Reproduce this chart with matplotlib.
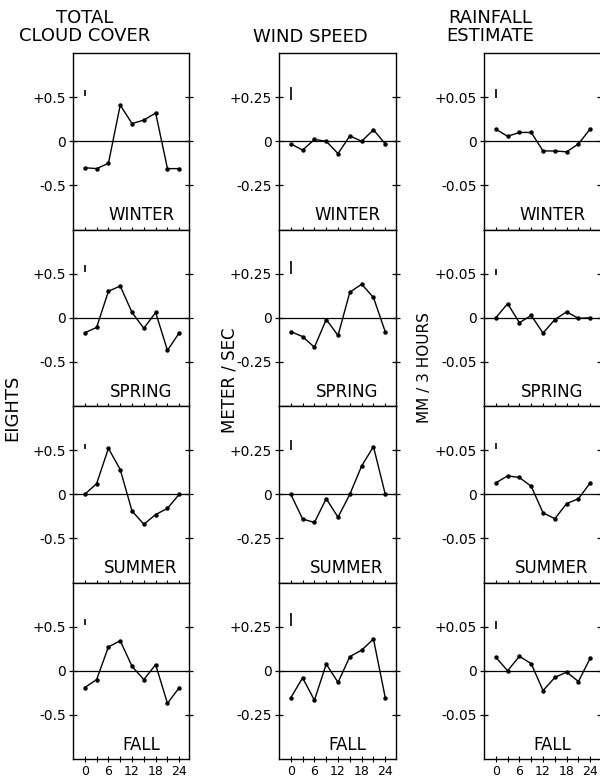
import matplotlib
matplotlib.use("Agg")
import matplotlib.pyplot as plt
import numpy as np

plt.rcParams['font.family'] = ['DejaVu Sans']

hours = [0, 3, 6, 9, 12, 15, 18, 21, 24]
seasons = ["WINTER", "SPRING", "SUMMER", "FALL"]

cloud = {
    "WINTER": [-0.30, -0.31, -0.25, 0.41, 0.20, 0.24, 0.32, -0.31, -0.31],
    "SPRING": [-0.17, -0.11, 0.30, 0.36, 0.06, -0.12, 0.06, -0.37, -0.17],
    "SUMMER": [0.00, 0.12, 0.52, 0.28, -0.19, -0.34, -0.23, -0.16, 0.00],
    "FALL":   [-0.19, -0.10, 0.27, 0.34, 0.05, -0.10, 0.07, -0.37, -0.19],
}
wind = {
    "WINTER": [-0.015, -0.05, 0.01, 0.0, -0.07, 0.03, 0.0, 0.065, -0.015],
    "SPRING": [-0.078, -0.107, -0.167, -0.01, -0.10, 0.145, 0.19, 0.115, -0.08],
    "SUMMER": [0.0, -0.14, -0.16, -0.025, -0.13, 0.0, 0.16, 0.27, 0.0],
    "FALL":   [-0.153, -0.04, -0.167, 0.038, -0.066, 0.08, 0.117, 0.18, -0.153],
}
rain = {
    "WINTER": [0.0137, 0.0056, 0.010, 0.010, -0.011, -0.011, -0.012, -0.003, 0.014],
    "SPRING": [0.0, 0.016, -0.0056, 0.0026, -0.0174, -0.002, 0.0067, -0.0007, 0.0],
    "SUMMER": [0.0129, 0.0208, 0.019, 0.009, -0.021, -0.0277, -0.0106, -0.005, 0.0129],
    "FALL":   [0.0153, 0.0, 0.0164, 0.008, -0.0225, -0.0076, -0.0015, -0.0122, 0.0145],
}

# error-bar indicators (centre, half length) per column, per season
cloud_err_c = [0.55, 0.56, 0.54, 0.55]
cloud_err_h = [0.035, 0.037, 0.03, 0.035]
wind_err_c = [0.27, 0.285, 0.28, 0.29]
wind_err_h = [0.037, 0.035, 0.028, 0.038]
rain_err_c = [0.054, 0.052, 0.055, 0.0515]
rain_err_h = [0.0055, 0.0037, 0.0032, 0.0044]

col_titles = ["TOTAL\nCLOUD COVER", "WIND SPEED", "RAINFALL\nESTIMATE"]
col_ylabels = ["EIGHTS", "METER / SEC", "MM / 3 HOURS"]
col_ranges = [0.5, 0.25, 0.05]
col_ticklabels = [["-0.5", "0", "+0.5"], ["-0.25", "0", "+0.25"], ["-0.05", "0", "+0.05"]]
xticklabels = ["0", "", "6", "", "12", "", "18", "", "24"]

W, H = 600, 779
fig = plt.figure(figsize=(W / 100, H / 100), dpi=100)

col_left_px = [73, 279, 484]
ax_w_px = 116.5
top_px = 53
bottom_px = 759
panel_h_px = (bottom_px - top_px) / 4

datasets = [cloud, wind, rain]
errs_c = [cloud_err_c, wind_err_c, rain_err_c]
errs_h = [cloud_err_h, wind_err_h, rain_err_h]

for c in range(3):
    r = col_ranges[c]
    for i, s in enumerate(seasons):
        ptop = top_px + i * panel_h_px
        ax = fig.add_axes([col_left_px[c] / W, 1 - (ptop + panel_h_px) / H,
                           ax_w_px / W, panel_h_px / H])
        ax.set_xlim(-3, 26.6)
        ax.set_ylim(-2 * r, 2 * r)
        ax.axhline(0, color="black", lw=0.9)
        ax.plot(hours, datasets[c][s], color="black", lw=1.0, marker="o", ms=2.2)
        ax.vlines([0], [errs_c[c][i] - errs_h[c][i]], [errs_c[c][i] + errs_h[c][i]],
                  color="black", lw=1.2)
        ax.text(14.3, -1.68 * r, s, ha="center", va="center", fontsize=12)
        ax.set_yticks([-r, 0, r])
        ax.set_yticklabels(col_ticklabels[c], fontsize=10)
        ax.tick_params(axis="y", direction="inout", length=6, width=0.9,
                       right=True, pad=2)
        ax.set_xticks(hours)
        ax.tick_params(axis="x", direction="inout", length=4, width=0.8,
                       top=False, bottom=True, pad=2)
        if i == 3:
            ax.set_xticklabels(xticklabels, fontsize=9)
        else:
            ax.set_xticklabels([])
        for sp in ax.spines.values():
            sp.set_linewidth(1.0)

# column titles
title_x = [85, 310, 490]
fig.text(title_x[0] / W, 1 - 27 / H, col_titles[0], ha="center", va="center",
         fontsize=13, linespacing=0.95)
fig.text(title_x[1] / W, 1 - 37 / H, col_titles[1], ha="center", va="center",
         fontsize=13)
fig.text(title_x[2] / W, 1 - 27 / H, col_titles[2], ha="center", va="center",
         fontsize=13, linespacing=0.95)

# y labels
fig.text(12 / W, 1 - 408 / H, col_ylabels[0], rotation=90, ha="center", va="center",
         fontsize=13)
fig.text(229 / W, 1 - 380 / H, col_ylabels[1], rotation=90, ha="center", va="center",
         fontsize=12)
fig.text(425 / W, 1 - 368 / H, col_ylabels[2], rotation=90, ha="center", va="center",
         fontsize=11)

fig.savefig("out.png", dpi=100)
